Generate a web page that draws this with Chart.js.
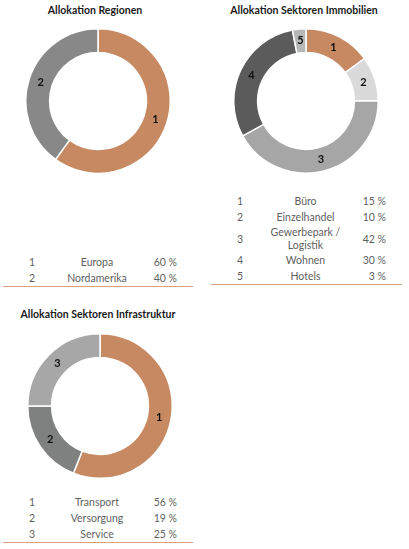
<!DOCTYPE html>
<html lang="de">
<head>
<meta charset="utf-8">
<title>Allokation</title>
<script src="https://cdn.jsdelivr.net/npm/chart.js@4.4.1/dist/chart.umd.min.js"></script>
<style>
  html, body {
    margin: 0;
    padding: 0;
    background: #fff;
  }
  body {
    position: relative;
    width: 409px;
    height: 549px;
    overflow: hidden;
    font-family: Lato, "Open Sans", sans-serif;
  }
  .title {
    position: absolute;
    width: 200px;
    margin-left: -100px;
    text-align: center;
    font-weight: bold;
    font-size: 10.5px;
    color: #1a1a1a;
    line-height: 14px;
  }
  .donut {
    position: absolute;
    width: 146px;
    height: 146px;
  }
  .legend {
    position: absolute;
    border-collapse: collapse;
    border-bottom: 1px solid #d6a282;
    font-size: 10.5px;
    color: #5f5f5f;
  }
  .legend td {
    padding: 0;
    line-height: 16px;
    height: 16px;
    vertical-align: middle;
  }
  .legend td.num { text-align: left; }
  .legend td.lbl { text-align: center; white-space: pre-line; }
  .legend td.pct { text-align: right; }
  .legend td.lbl.multi { line-height: 13px; height: 27px; }
</style>
</head>
<body>

<div class="title" style="left:95px; top:3px;">Allokation Regionen</div>
<div class="donut" style="left:25px; top:28px;"><canvas id="regionenChart"></canvas></div>
<table class="legend" id="regionenTable" style="left:3px; top:254px; width:190px;"></table>

<div class="title" style="left:304px; top:3px;">Allokation Sektoren Immobilien</div>
<div class="donut" style="left:233px; top:28px;"><canvas id="immobilienChart"></canvas></div>
<table class="legend" id="immobilienTable" style="left:211px; top:193px; width:191px;"></table>

<div class="title" style="left:98px; top:307px;">Allokation Sektoren Infrastruktur</div>
<div class="donut" style="left:27px; top:333px;"><canvas id="infrastrukturChart"></canvas></div>
<table class="legend" id="infrastrukturTable" style="left:3px; top:494px; width:190px;"></table>

<script>
// Allokation Regionen
const regionenLabels = ['Europa', 'Nordamerika'];
const regionenValues = [60, 40];

// Allokation Sektoren Immobilien
const immobilienLabels = ['Büro', 'Einzelhandel', 'Gewerbepark /\nLogistik', 'Wohnen', 'Hotels'];
const immobilienValues = [15, 10, 42, 30, 3];

// Allokation Sektoren Infrastruktur
const infrastrukturLabels = ['Transport', 'Versorgung', 'Service'];
const infrastrukturValues = [56, 19, 25];

// Segment colours
const COLORS = {
  regionen: ['#c68962', '#878887'],
  immobilien: ['#c68962', '#d9dad9', '#a6a6a6', '#5a5b5a', '#b5b7b6'],
  infrastruktur: ['#c68962', '#7f8180', '#a7a7a7']
};

/**
 * Draw segment numbers (1, 2, 3 ...) in the middle of each ring segment
 */
const segmentNumbers = {
  id: 'segmentNumbers',
  afterDatasetsDraw(chart) {
    const ctx = chart.ctx;
    const meta = chart.getDatasetMeta(0);
    ctx.save();
    ctx.font = 'bold 11px Lato, "Open Sans", sans-serif';
    ctx.fillStyle = '#111';
    ctx.textAlign = 'center';
    ctx.textBaseline = 'middle';
    meta.data.forEach((arc, i) => {
      const pos = arc.tooltipPosition();
      ctx.fillText(String(i + 1), pos.x, pos.y);
    });
    ctx.restore();
  }
};

/**
 * Create a doughnut chart
 */
function createDonut(canvasId, labels, values, colors) {
  const ctx = document.getElementById(canvasId).getContext('2d');
  return new Chart(ctx, {
    type: 'doughnut',
    data: {
      labels: labels,
      datasets: [{
        data: values,
        backgroundColor: colors,
        borderColor: '#ffffff',
        borderWidth: 1.5
      }]
    },
    options: {
      responsive: true,
      maintainAspectRatio: false,
      animation: false,
      cutout: '67%',
      layout: { padding: 0 },
      plugins: {
        legend: { display: false },
        tooltip: { enabled: false }
      }
    },
    plugins: [segmentNumbers]
  });
}

/**
 * Build the legend table under a chart
 */
function buildTable(tableId, labels, values) {
  const table = document.getElementById(tableId);
  table.innerHTML = labels.map((label, index) => {
    const multi = label.indexOf('\n') >= 0 ? ' multi' : '';
    return `
    <tr>
      <td class="num" style="width:28px; padding-left:26px;">${index + 1}</td>
      <td class="lbl${multi}">${escapeHtml(label)}</td>
      <td class="pct" style="width:40px; padding-right:16px;">${values[index]} %</td>
    </tr>`;
  }).join('');
}

function escapeHtml(text) {
  const div = document.createElement('div');
  div.textContent = text;
  return div.innerHTML;
}

createDonut('regionenChart', regionenLabels, regionenValues, COLORS.regionen);
createDonut('immobilienChart', immobilienLabels, immobilienValues, COLORS.immobilien);
createDonut('infrastrukturChart', infrastrukturLabels, infrastrukturValues, COLORS.infrastruktur);

buildTable('regionenTable', regionenLabels, regionenValues);
buildTable('immobilienTable', immobilienLabels, immobilienValues);
buildTable('infrastrukturTable', infrastrukturLabels, infrastrukturValues);
</script>
</body>
</html>
